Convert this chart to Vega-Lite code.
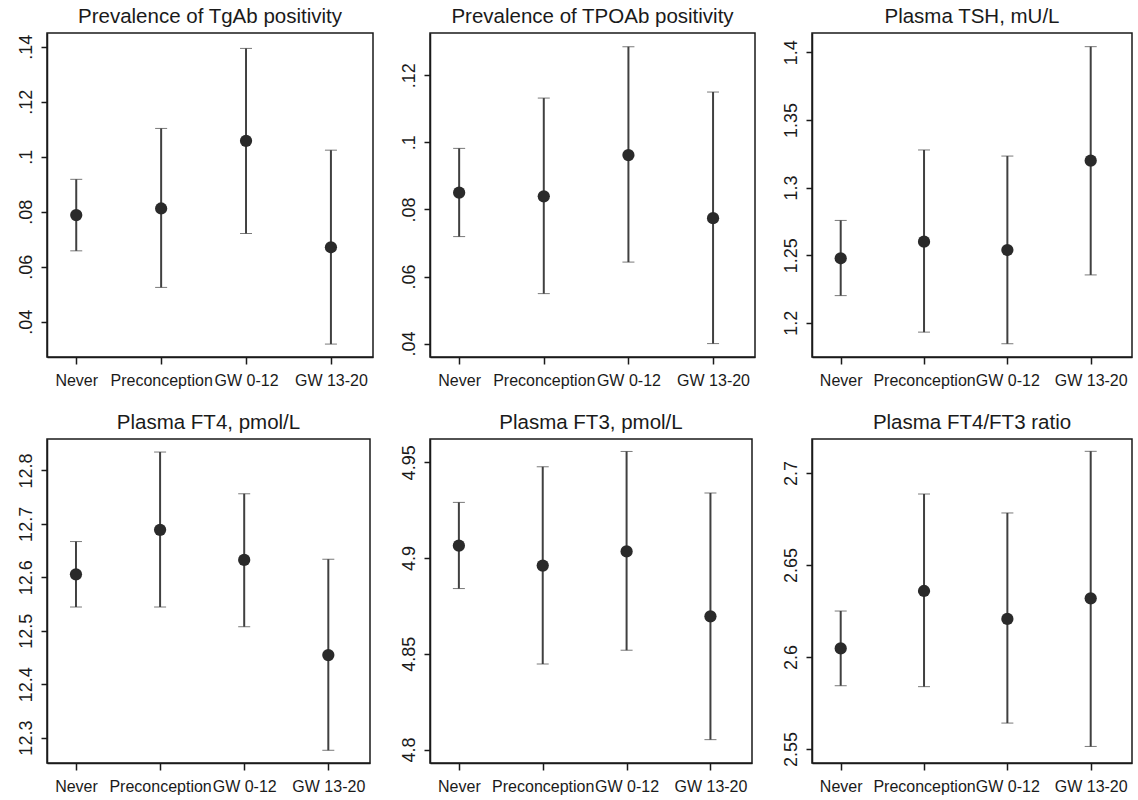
{
  "$schema": "https://vega.github.io/schema/vega-lite/v6.json",
  "background": "white",
  "padding": {"left": 16, "top": 5, "right": 5, "bottom": 5},
  "datasets": {
    "tgab": [
      {"group": "Never", "est": 0.0788, "lo": 0.0658, "hi": 0.0918},
      {"group": "Preconception", "est": 0.0812, "lo": 0.0525, "hi": 0.1103},
      {"group": "GW 0-12", "est": 0.1058, "lo": 0.0721, "hi": 0.1394},
      {"group": "GW 13-20", "est": 0.0671, "lo": 0.0319, "hi": 0.1024}
    ],
    "tpoab": [
      {"group": "Never", "est": 0.0850, "lo": 0.0719, "hi": 0.0982},
      {"group": "Preconception", "est": 0.0839, "lo": 0.0549, "hi": 0.1132},
      {"group": "GW 0-12", "est": 0.0962, "lo": 0.0643, "hi": 0.1285},
      {"group": "GW 13-20", "est": 0.0774, "lo": 0.0400, "hi": 0.1150}
    ],
    "tsh": [
      {"group": "Never", "est": 1.2477, "lo": 1.2201, "hi": 1.2757},
      {"group": "Preconception", "est": 1.2600, "lo": 1.1931, "hi": 1.3278},
      {"group": "GW 0-12", "est": 1.2538, "lo": 1.1845, "hi": 1.3233},
      {"group": "GW 13-20", "est": 1.3199, "lo": 1.2354, "hi": 1.4042}
    ],
    "ft4": [
      {"group": "Never", "est": 12.6056, "lo": 12.5444, "hi": 12.6669},
      {"group": "Preconception", "est": 12.6888, "lo": 12.5444, "hi": 12.8344},
      {"group": "GW 0-12", "est": 12.6325, "lo": 12.5075, "hi": 12.7563},
      {"group": "GW 13-20", "est": 12.4544, "lo": 12.2763, "hi": 12.6338}
    ],
    "ft3": [
      {"group": "Never", "est": 4.9065, "lo": 4.8841, "hi": 4.9291},
      {"group": "Preconception", "est": 4.8961, "lo": 4.8447, "hi": 4.9477},
      {"group": "GW 0-12", "est": 4.9035, "lo": 4.8519, "hi": 4.9557},
      {"group": "GW 13-20", "est": 4.8696, "lo": 4.8052, "hi": 4.9340}
    ],
    "ratio": [
      {"group": "Never", "est": 2.6047, "lo": 2.5844, "hi": 2.6250},
      {"group": "Preconception", "est": 2.6359, "lo": 2.5839, "hi": 2.6886},
      {"group": "GW 0-12", "est": 2.6207, "lo": 2.5641, "hi": 2.6783},
      {"group": "GW 13-20", "est": 2.6319, "lo": 2.5514, "hi": 2.7118}
    ]
  },
  "bounds": "flush",
  "spacing": 406,
  "vconcat": [
    {
      "bounds": "flush",
      "spacing": 57,
      "hconcat": [
        {
          "width": 326, "height": 324,
          "title": "Prevalence of TgAb positivity",
          "data": {"name": "tgab"},
          "encoding": {"x": {"field": "group", "type": "nominal", "title": null, "scale": {"type": "point", "domain": ["Never", "Preconception", "GW 0-12", "GW 13-20"], "padding": 0.42, "align": 0.41}}},
          "layer": [
            {"mark": {"type": "errorbar", "ticks": true}, "encoding": {"y": {"field": "lo", "type": "quantitative", "title": null, "scale": {"domain": [0.0272, 0.145], "nice": false, "zero": false}, "axis": {"values": [0.04, 0.06, 0.08, 0.1, 0.12, 0.14], "labelExpr": "replace(format(datum.value, '~g'), '0.', '.')"}}, "y2": {"field": "hi"}}},
            {"mark": {"type": "point", "filled": true}, "encoding": {"y": {"field": "est", "type": "quantitative", "title": null}}}
          ]
        },
        {
          "width": 325, "height": 324,
          "title": "Prevalence of TPOAb positivity",
          "data": {"name": "tpoab"},
          "encoding": {"x": {"field": "group", "type": "nominal", "title": null, "scale": {"type": "point", "domain": ["Never", "Preconception", "GW 0-12", "GW 13-20"], "padding": 0.42, "align": 0.41}}},
          "layer": [
            {"mark": {"type": "errorbar", "ticks": true}, "encoding": {"y": {"field": "lo", "type": "quantitative", "title": null, "scale": {"domain": [0.036, 0.1326], "nice": false, "zero": false}, "axis": {"values": [0.04, 0.06, 0.08, 0.1, 0.12], "labelExpr": "replace(format(datum.value, '~g'), '0.', '.')"}}, "y2": {"field": "hi"}}},
            {"mark": {"type": "point", "filled": true}, "encoding": {"y": {"field": "est", "type": "quantitative", "title": null}}}
          ]
        },
        {
          "width": 320, "height": 324,
          "title": "Plasma TSH, mU/L",
          "data": {"name": "tsh"},
          "encoding": {"x": {"field": "group", "type": "nominal", "title": null, "scale": {"type": "point", "domain": ["Never", "Preconception", "GW 0-12", "GW 13-20"], "padding": 0.42, "align": 0.41}}},
          "layer": [
            {"mark": {"type": "errorbar", "ticks": true}, "encoding": {"y": {"field": "lo", "type": "quantitative", "title": null, "scale": {"domain": [1.1747, 1.4143], "nice": false, "zero": false}, "axis": {"values": [1.2, 1.25, 1.3, 1.35, 1.4], "format": "~g"}}, "y2": {"field": "hi"}}},
            {"mark": {"type": "point", "filled": true}, "encoding": {"y": {"field": "est", "type": "quantitative", "title": null}}}
          ]
        }
      ]
    },
    {
      "bounds": "flush",
      "spacing": 60,
      "hconcat": [
        {
          "width": 323, "height": 324,
          "title": "Plasma FT4, pmol/L",
          "data": {"name": "ft4"},
          "encoding": {"x": {"field": "group", "type": "nominal", "title": null, "scale": {"type": "point", "domain": ["Never", "Preconception", "GW 0-12", "GW 13-20"], "padding": 0.42, "align": 0.41}}},
          "layer": [
            {"mark": {"type": "errorbar", "ticks": true}, "encoding": {"y": {"field": "lo", "type": "quantitative", "title": null, "scale": {"domain": [12.2525, 12.8588], "nice": false, "zero": false}, "axis": {"values": [12.3, 12.4, 12.5, 12.6, 12.7, 12.8], "format": "~g"}}, "y2": {"field": "hi"}}},
            {"mark": {"type": "point", "filled": true}, "encoding": {"y": {"field": "est", "type": "quantitative", "title": null}}}
          ]
        },
        {
          "width": 322, "height": 324,
          "title": "Plasma FT3, pmol/L",
          "data": {"name": "ft3"},
          "encoding": {"x": {"field": "group", "type": "nominal", "title": null, "scale": {"type": "point", "domain": ["Never", "Preconception", "GW 0-12", "GW 13-20"], "padding": 0.42, "align": 0.41}}},
          "layer": [
            {"mark": {"type": "errorbar", "ticks": true}, "encoding": {"y": {"field": "lo", "type": "quantitative", "title": null, "scale": {"domain": [4.793, 4.9622], "nice": false, "zero": false}, "axis": {"values": [4.8, 4.85, 4.9, 4.95], "format": "~g"}}, "y2": {"field": "hi"}}},
            {"mark": {"type": "point", "filled": true}, "encoding": {"y": {"field": "est", "type": "quantitative", "title": null}}}
          ]
        },
        {
          "width": 320, "height": 324,
          "title": "Plasma FT4/FT3 ratio",
          "data": {"name": "ratio"},
          "encoding": {"x": {"field": "group", "type": "nominal", "title": null, "scale": {"type": "point", "domain": ["Never", "Preconception", "GW 0-12", "GW 13-20"], "padding": 0.42, "align": 0.41}}},
          "layer": [
            {"mark": {"type": "errorbar", "ticks": true}, "encoding": {"y": {"field": "lo", "type": "quantitative", "title": null, "scale": {"domain": [2.5424, 2.7185], "nice": false, "zero": false}, "axis": {"values": [2.55, 2.6, 2.65, 2.7], "format": "~g"}}, "y2": {"field": "hi"}}},
            {"mark": {"type": "point", "filled": true}, "encoding": {"y": {"field": "est", "type": "quantitative", "title": null}}}
          ]
        }
      ]
    }
  ],
  "config": {
    "font": "Liberation Sans",
    "view": {"stroke": "#1a1a1a", "strokeWidth": 1.5},
    "title": {"fontSize": 20.5, "fontWeight": "normal", "color": "#1a1a1a", "offset": 6, "anchor": "middle", "font": "Liberation Sans"},
    "axis": {"grid": false, "domainColor": "#1a1a1a", "domainWidth": 1.5, "tickColor": "#1a1a1a", "tickWidth": 1.5, "labelColor": "#1a1a1a", "labelFontSize": 16, "labelFont": "Liberation Sans"},
    "axisX": {"tickSize": 7, "labelPadding": 8, "labelAngle": 0, "labelOverlap": false},
    "axisY": {"tickSize": 6, "labelAngle": -90, "labelAlign": "center", "labelBaseline": "bottom", "labelPadding": 6, "labelFontSize": 18},
    "errorbar": {"color": "#404040", "thickness": 2, "ticks": {"size": 12, "color": "#404040", "strokeWidth": 2}, "rule": {"strokeWidth": 2, "color": "#404040"}},
    "point": {"color": "#2a2a2a", "size": 150, "opacity": 1}
  }
}
